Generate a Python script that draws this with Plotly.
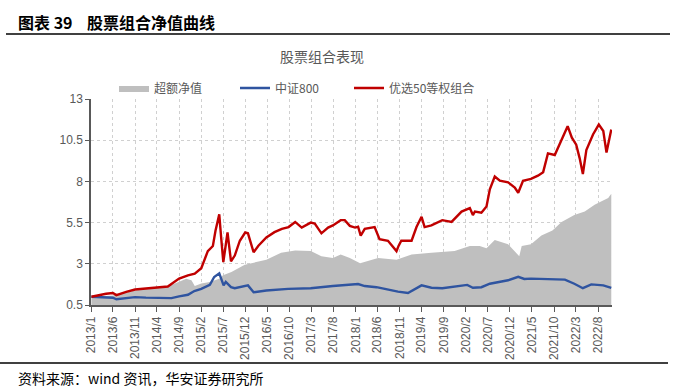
import plotly.graph_objects as go

# ---------------- data ----------------
excess_dates = [
    "2013-01-04", "2013-06-01", "2013-11-01", "2014-04-01", "2014-06-15", "2014-09-01",
    "2014-10-20", "2014-11-25", "2014-12-18", "2015-02-01", "2015-04-01", "2015-06-05",
    "2015-07-01", "2015-08-28", "2015-11-28", "2016-04-25", "2016-08-05", "2016-11-10",
    "2017-02-25", "2017-05-10", "2017-07-28", "2017-09-20", "2017-11-22", "2018-02-01",
    "2018-06-05", "2018-10-10", "2019-01-22", "2019-06-08", "2019-11-15", "2020-02-28",
    "2020-05-06", "2020-06-22", "2020-08-18", "2020-11-18", "2021-01-15", "2021-02-03",
    "2021-02-20", "2021-04-25", "2021-07-06", "2021-09-20", "2021-11-22", "2022-02-18",
    "2022-05-01", "2022-07-08", "2022-08-25", "2022-10-10", "2022-10-31",
]
excess_values = [
    1.00, 1.08, 1.38, 1.58, 1.62, 1.90,
    2.10, 2.00, 1.65, 1.80, 1.90, 2.10,
    2.30, 2.50, 2.94, 3.25, 3.67, 3.81,
    3.77, 3.46, 3.35, 3.56, 3.35, 3.04,
    3.35, 3.25, 3.56, 3.67, 3.77, 4.08,
    4.08, 3.94, 4.44, 4.19, 3.67, 3.46,
    4.08, 4.19, 4.71, 5.02, 5.54, 5.96,
    6.17, 6.58, 6.79, 7.00, 7.25,
]

csi800_dates = [
    "2013-01-04", "2013-04-01", "2013-06-01", "2013-06-25", "2013-09-15", "2013-11-01",
    "2014-01-15", "2014-04-01", "2014-07-10", "2014-09-01", "2014-11-01", "2014-12-15",
    "2015-02-01", "2015-04-01", "2015-05-01", "2015-06-05", "2015-06-18", "2015-07-05",
    "2015-07-20", "2015-08-25", "2015-09-20", "2015-11-20", "2015-12-20", "2016-01-28",
    "2016-04-25", "2016-09-22", "2017-02-25", "2017-07-28", "2017-11-22", "2018-01-18",
    "2018-03-05", "2018-05-25", "2018-10-20", "2018-12-28", "2019-04-01", "2019-06-08",
    "2019-08-22", "2020-01-02", "2020-02-10", "2020-03-20", "2020-05-18", "2020-07-15",
    "2020-11-18", "2021-01-27", "2021-03-10", "2021-04-25", "2021-09-20", "2021-12-15",
    "2022-02-18", "2022-04-18", "2022-06-15", "2022-09-06", "2022-10-31",
]
csi800_values = [
    1.00, 0.98, 0.94, 0.85, 0.95, 0.98,
    0.95, 0.92, 0.92, 1.02, 1.12, 1.35,
    1.48, 1.73, 2.20, 2.42, 2.10, 1.69,
    1.90, 1.58, 1.52, 1.65, 1.69, 1.27,
    1.38, 1.48, 1.52, 1.65, 1.73, 1.77,
    1.65, 1.58, 1.31, 1.23, 1.69, 1.55,
    1.52, 1.65, 1.72, 1.55, 1.58, 1.79,
    2.00, 2.21, 2.08, 2.10, 2.06, 2.04,
    1.79, 1.52, 1.75, 1.69, 1.54,
]

top50_dates = [
    "2013-01-04", "2013-02-20", "2013-04-15", "2013-06-01", "2013-06-25", "2013-09-01",
    "2013-11-01", "2014-01-15", "2014-04-01", "2014-06-15", "2014-09-01", "2014-11-01",
    "2014-12-18", "2015-02-01", "2015-03-18", "2015-04-22", "2015-05-10", "2015-06-05",
    "2015-06-18", "2015-07-03", "2015-08-01", "2015-08-25", "2015-09-20", "2015-10-25",
    "2015-12-01", "2015-12-20", "2016-01-28", "2016-03-01", "2016-04-25", "2016-06-20",
    "2016-08-10", "2016-09-25", "2016-11-10", "2016-12-25", "2017-02-25", "2017-03-25",
    "2017-05-10", "2017-06-25", "2017-07-28", "2017-09-20", "2017-10-18", "2017-11-22",
    "2017-12-28", "2018-01-18", "2018-02-05", "2018-03-05", "2018-05-12", "2018-06-15",
    "2018-08-12", "2018-10-10", "2018-10-25", "2018-11-12", "2019-01-22", "2019-02-25",
    "2019-04-01", "2019-04-22", "2019-06-08", "2019-08-22", "2019-10-25", "2020-01-02",
    "2020-02-28", "2020-03-20", "2020-04-03", "2020-05-18", "2020-06-22", "2020-07-15",
    "2020-08-18", "2020-09-22", "2020-11-18", "2021-01-03", "2021-01-27", "2021-03-01",
    "2021-04-25", "2021-06-12", "2021-07-18", "2021-08-20", "2021-10-06", "2021-11-10",
    "2022-01-03", "2022-02-01", "2022-03-03", "2022-03-27", "2022-04-18", "2022-05-12",
    "2022-06-27", "2022-08-06", "2022-09-06", "2022-09-28", "2022-10-31",
]
top50_values = [
    1.00, 1.10, 1.18, 1.23, 1.10, 1.30,
    1.44, 1.50, 1.58, 1.62, 2.10, 2.30,
    2.40, 2.73, 3.77, 4.08, 5.00, 6.00,
    4.60, 3.10, 4.90, 3.15, 3.50, 4.40,
    4.90, 4.85, 3.70, 4.10, 4.60, 4.92,
    5.12, 5.23, 5.54, 5.20, 5.50, 5.44,
    4.85, 5.20, 5.33, 5.65, 5.65, 5.30,
    5.20, 5.25, 4.71, 5.12, 5.23, 4.50,
    4.40, 3.77, 4.10, 4.40, 4.40, 5.23,
    5.85, 5.23, 5.33, 5.65, 5.54, 6.17,
    6.38, 5.96, 6.17, 6.10, 6.48, 7.52,
    8.30, 8.04, 7.94, 7.63, 7.31, 8.04,
    8.15, 8.35, 8.56, 9.70, 9.60, 10.33,
    11.35, 10.65, 10.23, 9.40, 8.45, 9.90,
    10.85, 11.45, 11.06, 9.75, 11.15,
]

x_tick_vals = [
    "2013-01-01", "2013-06-01", "2013-11-01", "2014-04-01", "2014-09-01", "2015-02-01",
    "2015-07-01", "2015-12-01", "2016-05-01", "2016-10-01", "2017-03-01", "2017-08-01",
    "2018-01-01", "2018-06-01", "2018-11-01", "2019-04-01", "2019-09-01", "2020-02-01",
    "2020-07-01", "2020-12-01", "2021-05-01", "2021-10-01", "2022-03-01", "2022-08-01",
]
x_tick_text = [
    "2013/1", "2013/6", "2013/11", "2014/4", "2014/9", "2015/2",
    "2015/7", "2015/12", "2016/5", "2016/10", "2017/3", "2017/8",
    "2018/1", "2018/6", "2018/11", "2019/4", "2019/9", "2020/2",
    "2020/7", "2020/12", "2021/5", "2021/10", "2022/3", "2022/8",
]
y_tick_vals = [0.5, 3, 5.5, 8, 10.5, 13]
y_tick_text = ["0.5", "3", "5.5", "8", "10.5", "13"]

series_names = ["超额净值", "中证800", "优选50等权组合"]

# ---------------- figure ----------------
W, H = 676, 391
L, R, T, B = 91, 612, 99, 305          # plot area in pixels
pw, ph = R - L, B - T


def px(x):
    return (x - L) / pw


def py(y):
    return (B - y) / ph


FONT = "Liberation Sans, Noto Sans CJK SC, sans-serif"
CJK = "Noto Sans CJK SC, sans-serif"
TXT = "#595959"

fig = go.Figure()
fig.add_trace(go.Scatter(
    x=excess_dates, y=excess_values, name=series_names[0], mode="lines",
    line=dict(width=0, color="#BFBFBF"), fill="tozeroy", fillcolor="#BFBFBF",
    legend="legend",
))
fig.add_trace(go.Scatter(
    x=csi800_dates, y=csi800_values, name=series_names[1], mode="lines",
    line=dict(width=2.4, color="#2F54A0"), legend="legend2",
))
fig.add_trace(go.Scatter(
    x=top50_dates, y=top50_values, name=series_names[2], mode="lines",
    line=dict(width=2.4, color="#C00000"), legend="legend3",
))

leg_common = dict(orientation="h", yanchor="middle", xanchor="left",
                  font=dict(family=CJK, size=12, color=TXT),
                  bgcolor="rgba(0,0,0,0)", itemwidth=30, tracegroupgap=0)
fig.update_layout(
    width=W, height=H,
    margin=dict(l=L, r=W - R, t=T, b=H - B, pad=0),
    paper_bgcolor="white", plot_bgcolor="white",
    showlegend=True,
    legend=dict(x=px(114), y=py(88), **leg_common),
    legend2=dict(x=px(235), y=py(88), **leg_common),
    legend3=dict(x=px(349), y=py(88), **leg_common),
    xaxis=dict(
        type="date", range=["2013-01-01", "2022-11-05"],
        tickmode="array", tickvals=x_tick_vals, ticktext=x_tick_text,
        tickangle=-90, tickfont=dict(family=FONT, size=12, color=TXT),
        showgrid=True, gridcolor="#D0D0D0", griddash="dot", gridwidth=1,
        showline=True, linecolor="#595959", linewidth=1.5,
        ticks="outside", ticklen=5, tickcolor="#595959", tickwidth=1,
        zeroline=False, fixedrange=True,
    ),
    yaxis=dict(
        range=[0.5, 13], tickmode="array", tickvals=y_tick_vals, ticktext=y_tick_text,
        tickfont=dict(family=FONT, size=12, color=TXT),
        showgrid=True, gridcolor="#D0D0D0", griddash="dot", gridwidth=1,
        showline=True, linecolor="#595959", linewidth=1.5,
        ticks="outside", ticklen=4, tickcolor="#595959", tickwidth=1,
        zeroline=False, fixedrange=True,
    ),
    shapes=[
        dict(type="line", xref="paper", yref="paper", x0=px(6), x1=px(670),
             y0=py(34), y1=py(34), line=dict(color="black", width=1.5)),
        dict(type="line", xref="paper", yref="paper", x0=px(0), x1=px(668),
             y0=py(363), y1=py(363), line=dict(color="black", width=1.5)),
    ],
    annotations=[
        dict(xref="paper", yref="paper", x=px(16), y=py(22), xanchor="left", yanchor="middle",
             text="<b>图表 39    股票组合净值曲线</b>", showarrow=False,
             font=dict(family=CJK, size=16, color="black")),
        dict(xref="paper", yref="paper", x=px(322), y=py(56), xanchor="center", yanchor="middle",
             text="股票组合表现", showarrow=False,
             font=dict(family=CJK, size=14, color=TXT)),
        dict(xref="paper", yref="paper", x=px(16), y=py(378), xanchor="left", yanchor="middle",
             text="资料来源：wind 资讯，华安证券研究所", showarrow=False,
             font=dict(family=CJK, size=14, color="black")),
    ],
)

fig.write_html("out.html", config={"displayModeBar": False},
               post_script="document.body.style.margin='0px';")
